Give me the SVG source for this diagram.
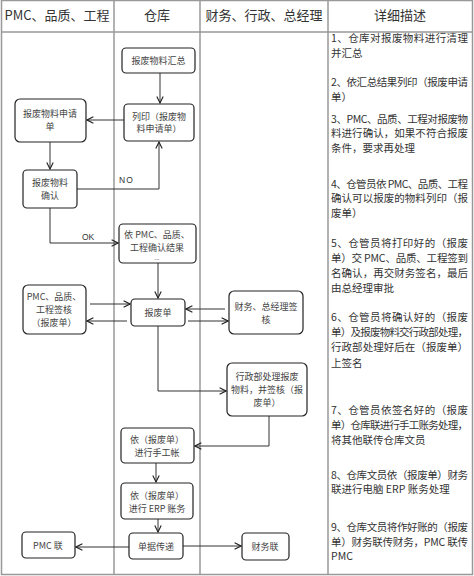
<svg xmlns="http://www.w3.org/2000/svg" width="474" height="576" viewBox="0 0 474 576">
<defs>
<marker id="arr" viewBox="0 0 10 10" refX="9" refY="5" markerWidth="8" markerHeight="8" markerUnits="userSpaceOnUse" orient="auto">
<polyline points="1,1 9,5 1,9" fill="none" stroke="#222" stroke-width="1.4"/>
</marker>
<style>
.grid{stroke:#999;stroke-width:1.5;fill:none}
.hd{font-family:"Noto Sans CJK SC","Noto Sans",sans-serif;font-size:13px;fill:#333;text-anchor:middle}
.node rect{fill:#fff;stroke:#222;stroke-width:1.2}
.node text{font-family:"Noto Sans CJK SC","Noto Sans",sans-serif;font-size:9px;fill:#444;text-anchor:middle}
.con path{fill:none;stroke:#333;stroke-width:1;marker-end:url(#arr)}
.lbl{font-family:"Liberation Sans",sans-serif;font-size:8.5px;fill:#333}
.desc text{font-family:"Noto Sans CJK SC","Noto Sans",sans-serif;font-size:10.5px;fill:#333}
</style>
</defs>
<rect width="474" height="576" fill="#fff"/>
<g id="table">
<rect x="1.5" y="0.5" width="471" height="574" class="grid"/>
<line x1="1.5" y1="32" x2="472.5" y2="32" class="grid"/>
<line x1="114" y1="0" x2="114" y2="575" class="grid"/>
<line x1="200" y1="0" x2="200" y2="575" class="grid"/>
<line x1="328" y1="0" x2="328" y2="575" class="grid"/>
<text x="57" y="20" class="hd">PMC、品质、工程</text>
<text x="157" y="20" class="hd">仓库</text>
<text x="264" y="20" class="hd">财务、行政、总经理</text>
<text x="400" y="20" class="hd">详细描述</text>
</g>
<g id="connectors" class="con">
<path d="M160,73 V103"/>
<path d="M124,120 H87"/>
<path d="M50,142 V169"/>
<path d="M77,189 H159 V142"/>
<path d="M50,208 V243 H118"/>
<path d="M158,263 V298"/>
<path d="M90,304 H130"/>
<path d="M127,321 H87"/>
<path d="M225,309 H186"/>
<path d="M188,321 H228"/>
<path d="M158,326 V391 H226"/>
<path d="M269,416 V446 H195"/>
<path d="M156,463 V482"/>
<path d="M158,519 V532"/>
<path d="M129,547 H76"/>
<path d="M183,546 H241"/>
<text x="119" y="183" class="lbl" letter-spacing="1">NO</text>
<text x="82" y="240" class="lbl">OK</text>
</g>
<g id="n1" class="node"><rect x="122" y="48" width="73" height="25" rx="4"/><text x="158.5" y="64">报废物料汇总</text></g>
<g id="n2" class="node"><rect x="124" y="104" width="70" height="37" rx="4"/><text x="159" y="120">列印（报废物</text><text x="159" y="132">料申请单）</text></g>
<g id="n3" class="node"><rect x="15" y="99" width="71" height="43" rx="5"/><text x="50" y="117">报废物料申请</text><text x="50" y="130">单</text></g>
<g id="n4" class="node"><rect x="23" y="170" width="54" height="38" rx="4"/><text x="50" y="186">报废物料</text><text x="50" y="199">确认</text></g>
<g id="n5" class="node"><rect x="119" y="224" width="77" height="39" rx="4"/><text x="157" y="238">依 PMC、品质、</text><text x="157" y="251">工程确认结果</text><text x="157" y="261" style="font-size:5px">…</text></g>
<g id="n6" class="node"><rect x="131" y="299" width="54" height="27" rx="4"/><text x="158" y="316">报废单</text></g>
<g id="n7" class="node"><rect x="23" y="285" width="63" height="49" rx="5"/><text x="54" y="300">PMC、品质、</text><text x="54" y="313">工程签核</text><text x="54" y="326">（报废单）</text></g>
<g id="n8" class="node"><rect x="229" y="291" width="74" height="43" rx="5"/><text x="266" y="310">财务、总经理签</text><text x="266" y="323">核</text></g>
<g id="n9" class="node"><rect x="227" y="363" width="80" height="53" rx="5"/><text x="267" y="380">行政部处理报废</text><text x="267" y="393">物料，并签核（报</text><text x="267" y="406">废单）</text></g>
<g id="n10" class="node"><rect x="121" y="428" width="73" height="35" rx="4"/><text x="157" y="443">依（报废单）</text><text x="157" y="456">进行手工帐</text></g>
<g id="n11" class="node"><rect x="121" y="483" width="72" height="36" rx="4"/><text x="157" y="499">依（报废单）</text><text x="157" y="512">进行 ERP 账务</text></g>
<g id="n12" class="node"><rect x="129" y="533" width="54" height="26" rx="4"/><text x="156" y="550">单据传递</text></g>
<g id="n13" class="node"><rect x="22" y="532" width="53" height="26" rx="4"/><text x="48" y="549">PMC 联</text></g>
<g id="n14" class="node"><rect x="242" y="533" width="47" height="27" rx="4"/><text x="265" y="550">财务联</text></g>
<g id="desc" class="desc">
<text x="331" y="42" textLength="137" lengthAdjust="spacing">1、仓库对报废物料进行清理</text>
<text x="331" y="57">并汇总</text>
<text x="331" y="86" textLength="137" lengthAdjust="spacing">2、依汇总结果列印（报废申请</text>
<text x="331" y="101">单）</text>
<text x="331" y="123" textLength="137" lengthAdjust="spacing">3、PMC、品质、工程对报废物</text>
<text x="331" y="137" textLength="137" lengthAdjust="spacing">料进行确认，如果不符合报废</text>
<text x="331" y="152">条件，要求再处理</text>
<text x="331" y="188" textLength="137" lengthAdjust="spacing">4、仓管员依 PMC、品质、工程</text>
<text x="331" y="202" textLength="137" lengthAdjust="spacing">确认可以报废的物料列印（报</text>
<text x="331" y="217">废单）</text>
<text x="331" y="247" textLength="137" lengthAdjust="spacing">5、仓管员将打印好的（报废</text>
<text x="331" y="262" textLength="137" lengthAdjust="spacing">单）交 PMC、品质、工程签到</text>
<text x="331" y="277" textLength="137" lengthAdjust="spacing">名确认，再交财务签名，最后</text>
<text x="331" y="292">由总经理审批</text>
<text x="331" y="321" textLength="137" lengthAdjust="spacing">6、仓管员将确认好的（报废</text>
<text x="331" y="336" textLength="137" lengthAdjust="spacing">单）及报废物料交行政部处理，</text>
<text x="331" y="351" textLength="137" lengthAdjust="spacing">行政部处理好后在（报废单）</text>
<text x="331" y="367">上签名</text>
<text x="331" y="414" textLength="137" lengthAdjust="spacing">7、仓管员依签名好的（报废</text>
<text x="331" y="429" textLength="137" lengthAdjust="spacing">单）仓库联进行手工账务处理，</text>
<text x="331" y="444">将其他联传仓库文员</text>
<text x="331" y="479" textLength="137" lengthAdjust="spacing">8、仓库文员依（报废单）财务</text>
<text x="331" y="493">联进行电脑 ERP 账务处理</text>
<text x="331" y="531" textLength="137" lengthAdjust="spacing">9、仓库文员将作好账的（报废</text>
<text x="331" y="546" textLength="137" lengthAdjust="spacing">单）财务联传财务，PMC 联传</text>
<text x="331" y="560">PMC</text>
</g>
</svg>
